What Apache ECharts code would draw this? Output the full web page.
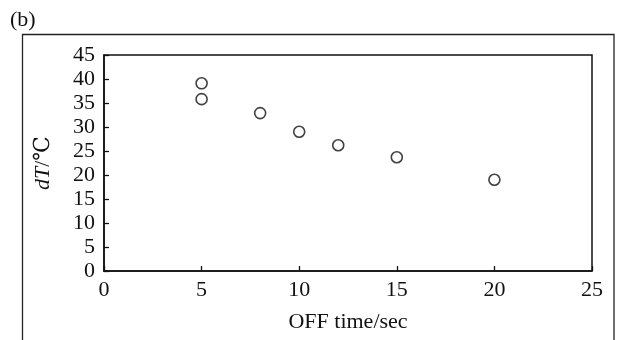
<!DOCTYPE html>
<html>
<head>
<meta charset="utf-8">
<script src="https://cdn.jsdelivr.net/npm/echarts@6/dist/echarts.min.js"></script>
<style>
html,body{margin:0;padding:0;background:#fff;}
#c{width:620px;height:340px;}
</style>
</head>
<body>
<div id="c"></div>
<script>
// Data
const offTime = [5, 5, 8, 10, 12, 15, 20];
const dT = [39.1, 35.8, 32.9, 29.0, 26.2, 23.7, 19.0];
const xTicks = [0, 5, 10, 15, 20, 25];
const yTicks = [0, 5, 10, 15, 20, 25, 30, 35, 40, 45];
const panelLabel = '(b)';
const xName = 'OFF time/sec';
const yName = '{i|dT}/℃';

const points = offTime.map((x, i) => [x, dT[i]]);
const serif = '"Liberation Serif", "DejaVu Serif", serif';

const chart = echarts.init(document.getElementById('c'), null, {renderer: 'canvas'});
chart.setOption({
  animation: false,
  backgroundColor: '#fff',
  title: {
    text: panelLabel,
    left: 5, top: 4,
    textStyle: {fontFamily: serif, fontSize: 22, fontWeight: 'normal', color: '#111'}
  },
  graphic: [{
    type: 'polyline',
    shape: {points: [[22.5, 345], [22.5, 34.5], [614, 34.5], [614, 345]]},
    style: {stroke: '#222', lineWidth: 1.3, fill: null}
  }],
  grid: {
    left: 104, top: 55, right: 28, bottom: 69,
    show: true, borderColor: '#111', borderWidth: 1.5, backgroundColor: 'transparent'
  },
  xAxis: {
    type: 'value', min: xTicks[0], max: xTicks[xTicks.length - 1], interval: 5,
    name: xName, nameLocation: 'middle', nameGap: 40,
    nameTextStyle: {fontFamily: serif, fontSize: 22, color: '#111'},
    axisLine: {show: true, lineStyle: {color: '#111', width: 1.5}},
    axisTick: {show: true, inside: true, length: 5, lineStyle: {color: '#111', width: 1.3}},
    axisLabel: {fontFamily: serif, fontSize: 22, color: '#111', margin: 8},
    splitLine: {show: false}
  },
  yAxis: {
    type: 'value', min: yTicks[0], max: yTicks[yTicks.length - 1], interval: 5,
    name: yName, nameLocation: 'middle', nameGap: 50, nameRotate: 90,
    nameTextStyle: {fontFamily: serif, fontSize: 22, color: '#111',
      rich: {i: {fontFamily: serif, fontSize: 22, fontStyle: 'italic', color: '#111'}}},
    axisLine: {show: true, lineStyle: {color: '#111', width: 1.5}},
    axisTick: {show: true, inside: true, length: 5, lineStyle: {color: '#111', width: 1.3}},
    axisLabel: {fontFamily: serif, fontSize: 22, color: '#111', margin: 9},
    splitLine: {show: false}
  },
  series: [{
    type: 'scatter',
    data: points,
    symbol: 'circle',
    symbolSize: 11,
    itemStyle: {color: '#fff', borderColor: '#111', borderWidth: 1.6}
  }]
});
</script>
</body>
</html>
